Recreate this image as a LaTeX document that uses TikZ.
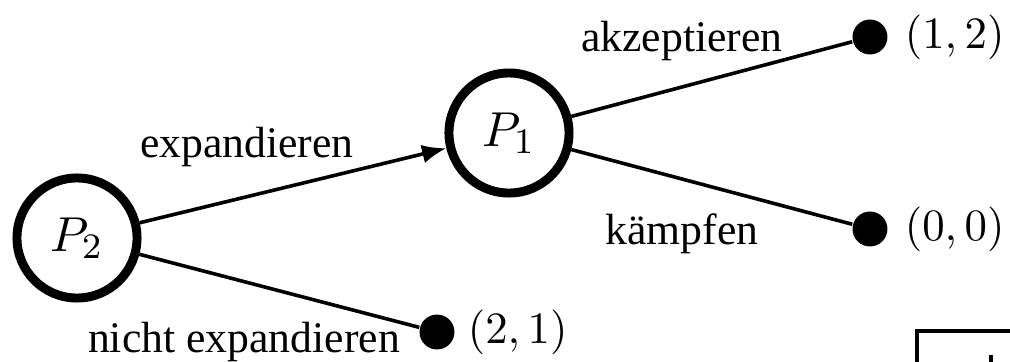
\documentclass[tikz,border=0pt]{standalone}
\usepackage{fontspec}
\setmainfont{Liberation Serif}
\usetikzlibrary{arrows.meta}
\begin{document}
\begin{tikzpicture}[x=0.2232pt,y=-0.2232pt,
  player/.style={draw,circle,line width=2pt,minimum size=26.8pt,inner sep=0pt,font=\fontsize{11.2}{13}\selectfont},
  leaf/.style={fill,circle,inner sep=0pt,minimum size=7.8pt},
  edge/.style={line width=0.8pt},
  lbl/.style={font=\fontsize{9.75}{12}\selectfont,inner sep=0pt},
  pay/.style={font=\fontsize{10.2}{12}\selectfont,inner sep=0pt,anchor=west}]
\useasboundingbox (0,0) rectangle (1010,362);
\node[player] (p2) at (77,238) {$P_2$};
\node[player] (p1) at (509,133) {$P_1$};
\node[leaf] (l12) at (870,37) {};
\node[leaf] (l00) at (870,229) {};
\node[leaf] (l21) at (437,332) {};
\node[pay] (t12) at (904,37) {$(1,2)$};
\node[pay] (t00) at (904,229) {$(0,0)$};
\node[pay] (t21) at (467,332) {$(2,1)$};
\draw[edge,-{Latex[length=5.4pt,width=4.2pt]}] (p2) -- (p1);
\draw[edge] (p1) -- (l12);
\draw[edge] (p1) -- (l00);
\draw[edge] (p2) -- (l21);
\node[lbl] (e1) at (247,147) {expandieren};
\node[lbl] (e2) at (682,41) {akzeptieren};
\node[lbl] (e3) at (682,234) {kämpfen};
\node[lbl] (e4) at (244,342) {nicht expandieren};
\coordinate (b1) at (917,331);
\coordinate (b2) at (1020,331);
\coordinate (b3) at (917,370);
\draw[line width=0.7pt] (b3) -- (b1) -- (b2);
\coordinate (k1) at (991,355);
\coordinate (k2) at (991,370);
\draw[line width=0.9pt] (k1) -- (k2);
\end{tikzpicture}
\end{document}
